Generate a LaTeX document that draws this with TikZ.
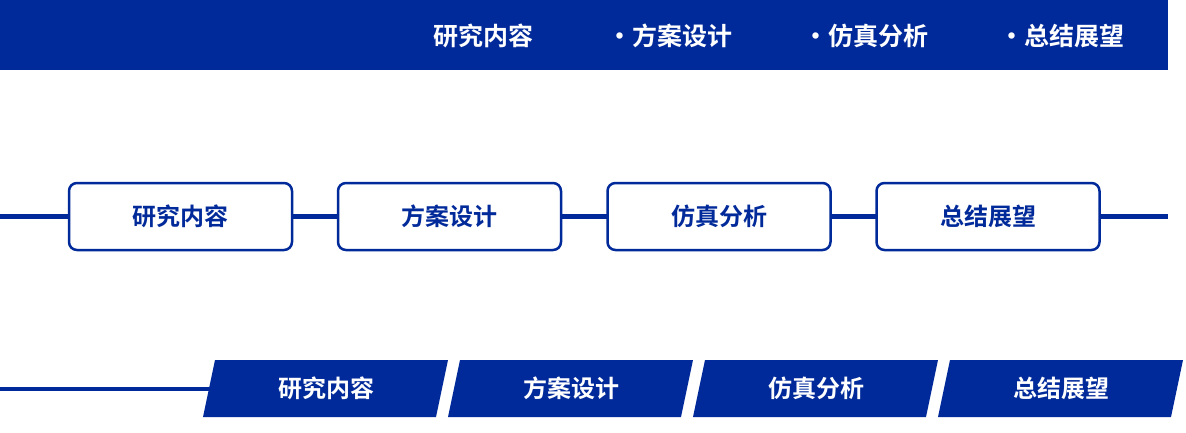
\documentclass[tikz,border=0pt]{standalone}
\usepackage{fontspec}
\newfontfamily\cjk{Noto Sans CJK SC}[BoldFont={Noto Sans CJK SC Bold}]
\begin{document}
\begin{tikzpicture}[x=1pt,y=-1pt,
 tb/.style={font=\cjk\bfseries\fontsize{25}{25}\selectfont,text=white,inner sep=0pt},
 bt/.style={font=\cjk\bfseries\fontsize{24}{24}\selectfont,text=myblue,inner sep=0pt},
 pill/.style={draw=myblue,line width=2.5pt,fill=white,rounded corners=8pt,minimum width=223pt,minimum height=67pt,inner sep=0pt,font=\cjk\bfseries\fontsize{24}{24}\selectfont,text=myblue}]
\definecolor{myblue}{HTML}{002A9A}
\useasboundingbox (0,0) rectangle (1186,433);
\fill[myblue] (0,0) rectangle (1168,70);
\node[tb] (t1) at (483,36) {研究内容};
\node[tb] (t2) at (670,36) {·方案设计};
\node[tb] (t3) at (866,36) {·仿真分析};
\node[tb] (t4) at (1062,36) {·总结展望};
\coordinate (l0) at (0,216);
\coordinate (l1) at (1168,216);
\draw[myblue,line width=5pt] (l0) -- (l1);
\node[pill] (b1) at (180.5,216.5) {研究内容};
\node[pill] (b2) at (449.5,216.5) {方案设计};
\node[pill] (b3) at (719,216.5) {仿真分析};
\node[pill] (b4) at (988,216.5) {总结展望};
\coordinate (m0) at (0,389);
\coordinate (m1) at (215,389);
\draw[myblue,line width=4pt] (m0) -- (m1);
\foreach \i/\t in {0/研究内容,1/方案设计,2/仿真分析,3/总结展望}{
  \fill[myblue] ({215+245*\i},360) -- ({448+245*\i},360) -- ({436+245*\i},417) -- ({203+245*\i},417) -- cycle;
  \node[tb,font=\cjk\bfseries\fontsize{24}{24}\selectfont] (p\i) at ({326+245*\i},388) {\t};
}
\end{tikzpicture}
\end{document}
